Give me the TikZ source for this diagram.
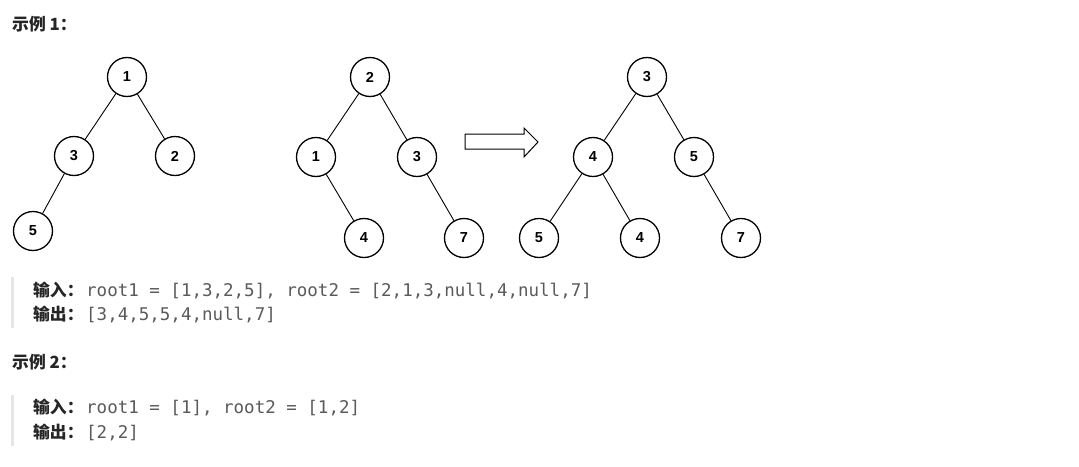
\documentclass[tikz,border=0pt]{standalone}
\usepackage{fontspec}
\setmainfont{Liberation Sans}
\setmonofont{DejaVu Sans Mono}
\newfontfamily\cjk{Noto Sans CJK SC}
\definecolor{codegray}{HTML}{5A5A5A}
\definecolor{labeldark}{HTML}{262626}
\definecolor{barline}{HTML}{E6E6E6}
\tikzset{
  tnode/.style={circle,draw,line width=1.3pt,minimum size=39pt,inner sep=0pt,
    font=\bfseries\fontsize{14.5}{14.5}\selectfont},
  tedge/.style={line width=0.9pt},
  heading/.style={anchor=base west,inner sep=0pt,text=labeldark,
    font=\cjk\bfseries\fontsize{16.8}{16.8}\selectfont},
  codetext/.style={anchor=base west,inner sep=0pt,text=codegray,
    font=\ttfamily\fontsize{17.5}{17.5}\selectfont},
}
\begin{document}
\begin{tikzpicture}[x=1pt,y=-1pt]
        \useasboundingbox[fill=white] (0,0) rectangle (1079,466);
        % example 1
        \node[heading] (ex1) at (12,30) {示例 1：};
        % first tree
        \node[tnode] (a1) at (127,77) {1};
        \node[tnode] (a3) at (74,156) {3};
        \node[tnode] (a2) at (175,156) {2};
        \node[tnode] (a5) at (33,231) {5};
        \draw[tedge] (a1) -- (a3);
        \draw[tedge] (a1) -- (a2);
        \draw[tedge] (a3) -- (a5);
        % second tree
        \node[tnode] (b2) at (370,77) {2};
        \node[tnode] (b1) at (316,157) {1};
        \node[tnode] (b3) at (417,157) {3};
        \node[tnode] (b4) at (364,238) {4};
        \node[tnode] (b7) at (464,238) {7};
        \draw[tedge] (b2) -- (b1);
        \draw[tedge] (b2) -- (b3);
        \draw[tedge] (b1) -- (b4);
        \draw[tedge] (b3) -- (b7);
        % merge arrow
        \draw[line width=1pt,line join=miter] (465,134) -- (524,134) -- (524,128)
          -- (538,142) -- (524,157) -- (524,149) -- (465,149) -- cycle;
        % merged tree
        \node[tnode] (c3) at (647,77) {3};
        \node[tnode] (c4) at (593,157) {4};
        \node[tnode] (c5) at (694,157) {5};
        \node[tnode] (c5b) at (539,238) {5};
        \node[tnode] (c4b) at (640,238) {4};
        \node[tnode] (c7) at (741,238) {7};
        \draw[tedge] (c3) -- (c4);
        \draw[tedge] (c3) -- (c5);
        \draw[tedge] (c4) -- (c5b);
        \draw[tedge] (c4) -- (c4b);
        \draw[tedge] (c5) -- (c7);
        % input / output 1
        \fill[barline] (11,277) rectangle (14,328);
        \node[heading] (in1) at (33,296) {输入：};
        \node[codetext] (in1v) at (86,296) {root1 = [1,3,2,5], root2 = [2,1,3,null,4,null,7]};
        \node[heading] (out1) at (33,320) {输出：};
        \node[codetext] (out1v) at (86,320) {[3,4,5,5,4,null,7]};
        % example 2
        \node[heading] (ex2) at (12,368) {示例 2：};
        \fill[barline] (11,395) rectangle (14,446);
        \node[heading] (in2) at (33,413) {输入：};
        \node[codetext] (in2v) at (86,413) {root1 = [1], root2 = [1,2]};
        \node[heading] (out2) at (33,438) {输出：};
        \node[codetext] (out2v) at (86,438) {[2,2]};
      \end{tikzpicture}
\end{document}
